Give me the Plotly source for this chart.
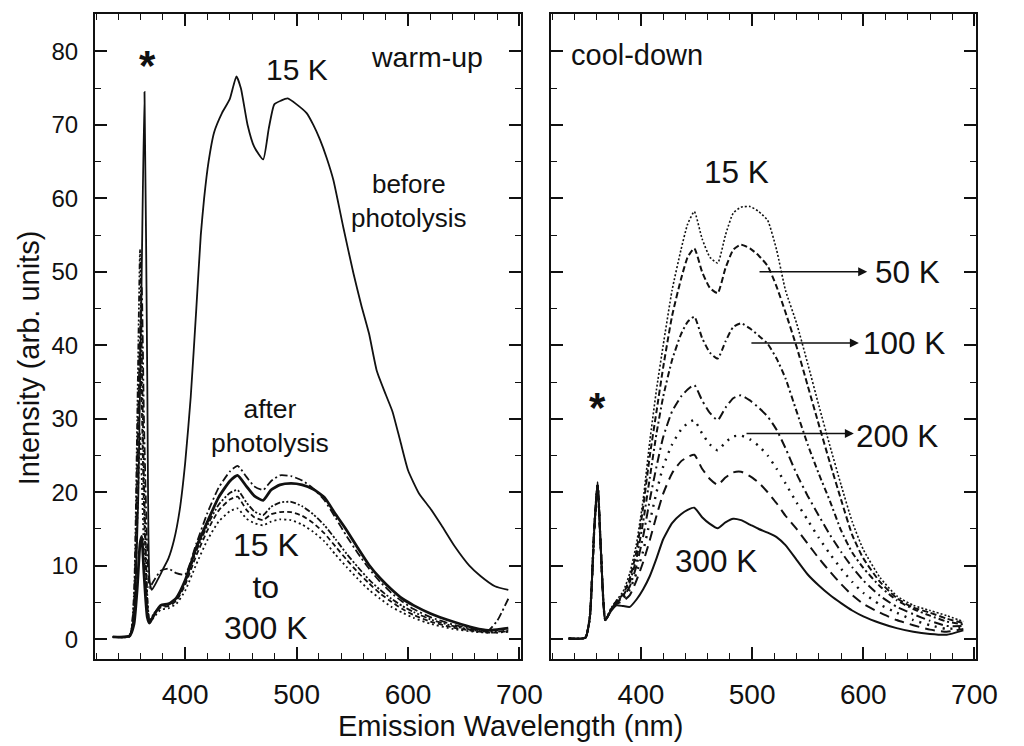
import plotly.graph_objects as go

# ---------------- data ----------------
# Left panel: warm-up
before_x = [335, 350, 354, 358, 361, 363.5, 366, 368, 370, 375, 380, 385, 390, 395, 400, 405, 410,
            414, 417, 421, 426, 433, 440, 446, 450, 456, 462, 470, 475, 480, 486, 492, 500, 509,
            515, 521, 527, 533, 542, 551, 558, 565, 572, 580, 586, 593, 600, 610, 620, 630, 642,
            655, 665, 678, 690]
before_15K = [0.3, 0.5, 3, 20, 50, 74.5, 35, 8, 6.7, 8, 9.5, 11, 13.5, 17.5, 24, 33, 45,
              55, 60, 65, 69, 71.6, 73.5, 76.6, 75, 70, 67, 65.3, 69.5, 72.8, 73.3, 73.6, 72.8, 71.6,
              70, 68, 65.5, 62.5, 56, 49.8, 45.5, 41.6, 36.5, 33.3, 31, 27, 23, 19.8, 17.8, 15.5, 12.6,
              10, 8.6, 7.2, 6.7]

after_x = [335, 350, 354, 357, 359.5, 361, 363, 366, 368, 372, 378, 385, 392, 400, 410, 420, 430,
           440, 447, 455, 462, 470, 477, 485, 495, 505, 515, 525, 535, 545, 555, 565, 575, 585,
           595, 605, 620, 640, 660, 672, 680, 690]
after_A = [0.3, 0.4, 5, 25, 42, 48, 30, 12, 7, 8, 9.3, 9.6, 9, 8.8, 13, 17.2, 20.6,
           22.8, 23.6, 22.1, 20.8, 20.3, 21.5, 22.3, 22.2, 21.6, 20.5, 18.9, 16.5, 14, 11.7, 9.6, 7.8, 6.3,
           5.1, 4.1, 3.0, 2.0, 1.3, 1.2, 2.5, 5.5]
after_B = [0.3, 0.4, 2, 7, 13, 14, 9, 3, 2.2, 3.3, 4.6, 4.8, 5.6, 8, 12.5, 16, 19.3,
           21.5, 22.3, 20.8, 19.5, 18.9, 20.3, 21, 21.2, 21, 20.4, 19.3, 17, 14.8, 12.4, 10.1, 8.3, 6.8,
           5.5, 4.6, 3.5, 2.4, 1.5, 1.2, 1.3, 1.5]
after_C = [0.3, 0.4, 6, 30, 53, 40, 22, 6, 2.5, 3.5, 4.5, 4.7, 5.4, 7.8, 12, 15.5, 18.3,
           19.9, 20.3, 18.6, 17.4, 16.9, 18, 18.6, 18.7, 18.1, 17, 15.5, 13.6, 11.6, 9.8, 8.1, 6.7, 5.5,
           4.5, 3.7, 2.7, 1.8, 1.2, 1.0, 1.0, 1.2]
after_D = [0.3, 0.4, 4, 22, 40, 32, 18, 5, 2.3, 3.3, 4.3, 4.5, 5.2, 7.4, 11.4, 14.8, 17.5,
           19, 19.4, 17.6, 16.6, 16.2, 17, 17.3, 17.3, 16.8, 15.8, 14.4, 12.6, 10.8, 9.1, 7.6, 6.2, 5.1,
           4.1, 3.3, 2.4, 1.6, 1.1, 0.9, 0.9, 1.1]
after_E = [0.3, 0.4, 3, 16, 28, 22, 12, 4, 2.2, 3, 4, 4.2, 4.8, 6.6, 10.2, 13.5, 16,
           17.4, 17.8, 16.4, 15.8, 15.5, 16, 16.3, 16.2, 15.6, 14.6, 13.3, 11.5, 9.8, 8.2, 6.7, 5.5, 4.4,
           3.6, 2.9, 2.1, 1.4, 1.0, 0.9, 0.9, 1.0]

# Right panel: cool-down
cool_x = [335, 350, 354, 358, 361, 364, 368, 373, 378, 384, 390, 396, 402, 408, 414, 420, 428, 436,
          442, 448, 455, 462, 469, 476, 483, 490, 498, 506, 514, 522, 530, 540, 550, 560, 570, 580,
          590, 600, 615, 630, 645, 660, 675, 690]
cool_15K = [0.1, 0.2, 3, 15, 21, 12, 2.6, 4.2, 5.3, 6.5, 9, 13, 19, 27, 34, 40, 47.5, 53,
            56.5, 58.2, 54.5, 52, 51.2, 55, 58, 58.8, 58.9, 58.2, 57, 53, 47.5, 43, 37.5, 31.8, 26.3, 21,
            16, 12.2, 8.4, 5.9, 4.6, 3.9, 3.2, 2.4]
cool_50K = [0.1, 0.2, 3, 15, 21, 12, 2.6, 4, 5.2, 6.1, 8.3, 12, 18, 25, 31, 37, 44, 49,
            52, 53.2, 50, 47.8, 47.1, 50.5, 53, 53.7, 53.2, 52.2, 50.8, 48, 44.5, 39.8, 34.5, 29.2, 24, 19,
            14.2, 11, 7.8, 5.6, 4.3, 3.6, 2.8, 2.2]
cool_100K = [0.1, 0.2, 3, 15, 21, 12, 2.6, 4, 5.1, 5.9, 7.8, 11, 16, 22, 28, 33, 38, 41.5,
             43.2, 43.9, 41, 39, 38.2, 40.5, 42.5, 43, 42.3, 41.3, 40.2, 38.2, 35.5, 31, 26.5, 22.5, 18.8, 14.8,
             11.8, 9.7, 7.2, 5.3, 4.1, 3.2, 2.4, 2.0]
cool_200K = [0.1, 0.2, 3, 15, 21, 12, 2.6, 4, 5, 5.7, 7.2, 10, 14, 19, 23.5, 27.5, 31, 33,
             34, 34.6, 32.5, 30.8, 29.8, 31.5, 32.8, 33.2, 32.5, 31.5, 30.3, 28.5, 26, 22.5, 19.5, 16.8, 14.2, 11.9,
             9.8, 8, 5.9, 4.4, 3.4, 2.5, 1.8, 1.8]
cool_250K = [0.1, 0.2, 3, 15, 21, 12, 2.6, 4, 5, 5.5, 6.8, 9, 12, 16, 20, 23.5, 26.5, 28.5,
             29.4, 29.8, 28, 26.5, 25.7, 26.8, 27.6, 27.7, 27.2, 26.3, 25, 23.2, 21.2, 18.6, 16.2, 13.8, 11.6, 9.6,
             7.8, 6.3, 4.7, 3.6, 2.6, 1.9, 1.4, 1.6]
cool_275K = [0.1, 0.2, 3, 15, 21, 12, 2.6, 3.9, 4.8, 5.2, 6, 8, 10.5, 13.5, 16.8, 19.8, 22.6, 24.2,
             24.8, 25.1, 23.2, 21.8, 21, 22, 22.7, 22.8, 22.2, 21.3, 20, 18.5, 16.8, 15, 13, 11, 9.2, 7.5,
             6.0, 4.8, 3.6, 2.6, 1.9, 1.3, 1.0, 1.4]
cool_300K = [0.1, 0.2, 3, 15, 21.4, 12, 2.6, 3.8, 4.6, 4.5, 4.4, 5.4, 6.8, 8.6, 11, 13.6, 15.8, 17,
             17.6, 17.9, 16.6, 15.7, 15.1, 15.9, 16.4, 16.2, 15.6, 15, 14.5, 13.9, 12.8, 10.8, 8.8, 7.3, 6.0, 4.9,
             3.9, 3.1, 2.2, 1.5, 1.0, 0.7, 0.6, 1.2]

x_range = [319, 701]
y_range = [-2.7, 85.1]
x_ticks = [400, 500, 600, 700]
y_ticks = [0, 10, 20, 30, 40, 50, 60, 70, 80]

FONT = "Liberation Sans, Arial, sans-serif"
BLACK = "#111111"

fig = go.Figure()

def add(x, y, dash, width, xa, ya):
    fig.add_trace(go.Scatter(x=x, y=y, mode="lines", xaxis=xa, yaxis=ya, showlegend=False,
                             line=dict(color=BLACK, width=width, dash=dash, shape="spline", smoothing=0.5),
                             hoverinfo="skip"))

# left panel
add(before_x, before_15K, "solid", 1.8, "x", "y")
add(after_x, after_E, "2px,3px", 1.8, "x", "y")
add(after_x, after_D, "5px,3px", 1.8, "x", "y")
add(after_x, after_C, "6px,2px,2px,2px,2px,2px", 1.8, "x", "y")
add(after_x, after_A, "8px,3px,2px,3px", 1.8, "x", "y")
add(after_x, after_B, "solid", 2.8, "x", "y")

# right panel
add(cool_x, cool_15K, "2px,2px", 1.6, "x2", "y2")
add(cool_x, cool_50K, "6px,3px", 2.0, "x2", "y2")
add(cool_x, cool_100K, "6px,3px,2px,3px", 2.0, "x2", "y2")
add(cool_x, cool_200K, "9px,4px,2px,4px", 2.0, "x2", "y2")
add(cool_x, cool_250K, "2px,6px", 2.4, "x2", "y2")
add(cool_x, cool_275K, "10px,6px", 2.0, "x2", "y2")
add(cool_x, cool_300K, "solid", 2.0, "x2", "y2")

W, H = 1024, 746
xdom1 = [97 / W, 532 / W]
xdom2 = [563 / W, 997 / W]
ydom = [1 - 659 / H, 1 - 14 / H]

xcommon = dict(range=x_range, tickvals=x_ticks, ticks="inside", ticklen=12, tickwidth=1.6,
               tickcolor=BLACK, showline=True, linecolor=BLACK, linewidth=2, mirror="ticks",
               showgrid=False, zeroline=False, ticklabelstandoff=9,
               tickfont=dict(family=FONT, size=28, color=BLACK),
               minor=dict(dtick=20, tick0=0, ticks="inside", ticklen=6, tickwidth=1.4,
                          tickcolor=BLACK, showgrid=False))
ycommon = dict(range=y_range, tickvals=y_ticks, ticks="inside", ticklen=12, tickwidth=1.6,
               tickcolor=BLACK, showline=True, linecolor=BLACK, linewidth=2, mirror="ticks",
               showgrid=False, zeroline=False, ticklabelstandoff=10,
               tickfont=dict(family=FONT, size=24, color=BLACK),
               minor=dict(dtick=5, tick0=0, ticks="inside", ticklen=6, tickwidth=1.4,
                          tickcolor=BLACK, showgrid=False))

fig.update_layout(
    width=W, height=H, margin=dict(l=0, r=0, t=0, b=0),
    paper_bgcolor="white", plot_bgcolor="white",
    font=dict(family=FONT, color=BLACK),
    xaxis=dict(domain=xdom1, anchor="y", **xcommon),
    yaxis=dict(domain=ydom, anchor="x", **ycommon),
    xaxis2=dict(domain=xdom2, anchor="y2", **xcommon),
    yaxis2=dict(domain=ydom, anchor="x2", showticklabels=False, **ycommon),
)

def txt(text, x, y, size, xref="x", yref="y", bold=False):
    fig.add_annotation(text=("<b>%s</b>" % text) if bold else text, x=x, y=y, xref=xref, yref=yref,
                       showarrow=False, xanchor="center", yanchor="middle",
                       font=dict(family=FONT, size=size, color=BLACK))

# left annotations
txt("*", 366.5, 78.1, 42, bold=True)
txt("15 K", 500.1, 77.5, 30)
txt("warm-up", 616.9, 79.3, 28.5)
txt("before<br>photolysis", 601.1, 59.6, 26)
txt("after<br>photolysis", 476.4, 29.0, 26.5)
txt("15 K<br>to<br>300 K", 472.9, 7.2, 32)

# right annotations
txt("cool-down", 396.5, 79.5, 29, "x2", "y2")
txt("15 K", 486.3, 63.6, 31.5, "x2", "y2")
txt("50 K", 639.4, 50.0, 31.5, "x2", "y2")
txt("100 K", 636.8, 40.3, 31.5, "x2", "y2")
txt("200 K", 630.6, 27.6, 31.5, "x2", "y2")
txt("300 K", 467.8, 10.7, 31.5, "x2", "y2")
txt("*", 361.0, 31.6, 42, "x2", "y2", bold=True)

# arrows
arrows = [(505.3, 603.5, 50.0), (498.0, 596.0, 40.3), (493.6, 591.5, 28.0)]
for x0, x1, yv in arrows:
    fig.add_annotation(x=x1, y=yv, ax=x0, ay=yv, xref="x2", yref="y2", axref="x2", ayref="y2",
                       showarrow=True, arrowhead=2, arrowsize=1.2, arrowwidth=1.5, arrowcolor=BLACK,
                       text="")

# axis titles
fig.add_annotation(text="Emission Wavelength (nm)", x=521.5 / W, y=1 - 726 / H, xref="paper", yref="paper",
                   showarrow=False, xanchor="center", yanchor="middle",
                   font=dict(family=FONT, size=29, color=BLACK))
fig.add_annotation(text="Intensity (arb. units)", x=30 / W, y=1 - 358 / H, xref="paper", yref="paper",
                   showarrow=False, xanchor="center", yanchor="middle", textangle=-90,
                   font=dict(family=FONT, size=29, color=BLACK))

fig.write_html("out.html")
